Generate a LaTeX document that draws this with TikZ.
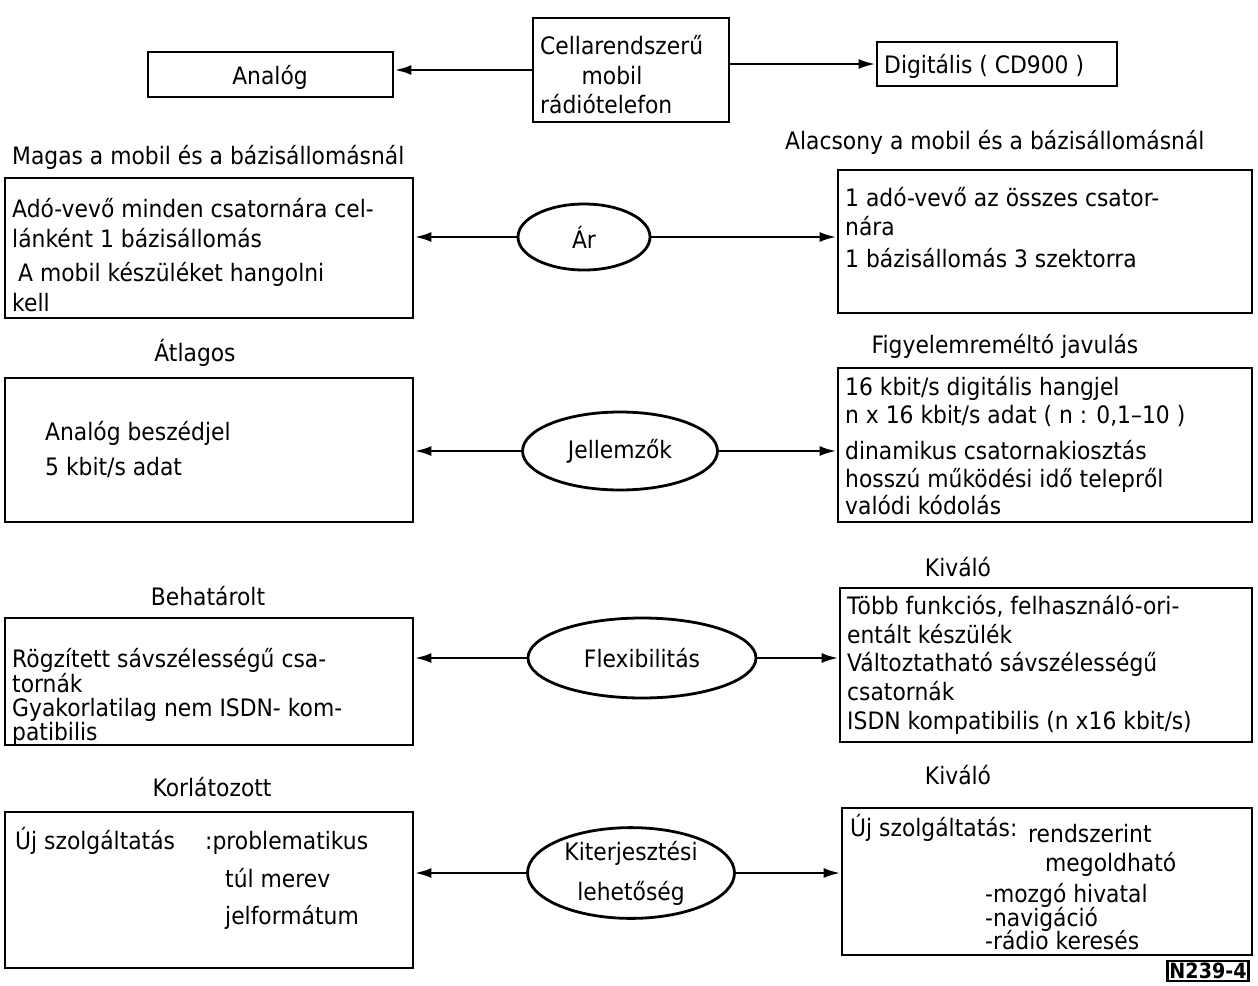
\documentclass[tikz,border=0pt]{standalone}
\usepackage{fontspec}
\setmainfont{DejaVu Sans}[FakeStretch=0.91]
\usetikzlibrary{shapes.geometric,arrows.meta,fit}
\begin{document}
\begin{tikzpicture}[x=1pt,y=-1pt,
  box/.style={draw, line width=2.8pt, inner sep=0pt},
  ell/.style={draw, ellipse, line width=2.8pt, inner sep=0pt, align=center, font=\fontsize{24}{40}\selectfont},
  txt/.style={inner sep=0pt, anchor=base west, font=\fontsize{24}{27}\selectfont},
  ctxt/.style={inner sep=0pt, anchor=base, font=\fontsize{24}{27}\selectfont},
  arr/.style={line width=2.8pt, -{Latex[length=17pt,width=10pt]}}]
\useasboundingbox (0,0) rectangle (1258,985);

% top row
\node[box, fit={(148,52) (393,97)}] (A) {};
\node[ctxt] (tA) at (270,84) {Analóg};
\node[box, fit={(533,18) (729,122)}] (C) {};
\node[txt] (tC1) at (540,54) {Cellarendszerű};
\node[ctxt] (tC2) at (612,84) {mobil};
\node[txt] (tC3) at (540,113) {rádiótelefon};
\node[box, fit={(877,42) (1117,86)}] (D) {};
\node[txt] (tD) at (884,73) {Digitális ( CD900 )};
\draw[arr] (C.west) -- (C.west -| A.east);
\draw[arr] (C.east |- D.west) -- (D.west);

% row 1: Ár
\node[txt] (cap1l) at (12,164) {Magas a mobil és a bázisállomásnál};
\node[txt] (cap1r) at (785,149) {Alacsony a mobil és a bázisállomásnál};
\node[box, fit={(5,178) (413,318)}] (L1) {};
\node[txt] (l1a) at (12,217) {Adó-vevő minden csatornára cel-};
\node[txt] (l1b) at (12,247) {lánként 1 bázisállomás};
\node[txt] (l1c) at (18,281) {A mobil készüléket hangolni};
\node[txt] (l1d) at (12,311) {kell};
\node[ell, minimum width=132pt, minimum height=66pt] (E1) at (584,237) {Ár};
\node[box, fit={(838,170) (1252,313)}] (R1) {};
\node[txt] (r1a) at (845,206) {1 adó-vevő az összes csator-};
\node[txt] (r1b) at (845,235) {nára};
\node[txt] (r1c) at (845,267) {1 bázisállomás 3 szektorra};
\draw[arr] (E1.west) -- (E1.west -| L1.east);
\draw[arr] (E1.east) -- (E1.east -| R1.west);

% row 2: Jellemzők
\node[ctxt] (cap2l) at (195,361) {Átlagos};
\node[ctxt] (cap2r) at (1005,353) {Figyelemreméltó javulás};
\node[box, fit={(5,378) (413,522)}] (L2) {};
\node[txt] (l2a) at (45,440) {Analóg beszédjel};
\node[txt] (l2b) at (45,475) {5 kbit/s adat};
\node[ell, minimum width=195pt, minimum height=78pt] (E2) at (620,451) {Jellemzők};
\node[box, fit={(838,368) (1252,522)}] (R2) {};
\node[txt] (r2a) at (845,395) {16 kbit/s digitális hangjel};
\node[txt] (r2b) at (845,423) {n x 16 kbit/s adat ( n : 0,1–10 )};
\node[txt] (r2c) at (845,459) {dinamikus csatornakiosztás};
\node[txt] (r2d) at (845,487) {hosszú működési idő telepről};
\node[txt] (r2e) at (845,514) {valódi kódolás};
\draw[arr] (E2.west) -- (E2.west -| L2.east);
\draw[arr] (E2.east) -- (E2.east -| R2.west);

% row 3: Flexibilitás
\node[ctxt] (cap3l) at (208,605) {Behatárolt};
\node[ctxt] (cap3r) at (958,576) {Kiváló};
\node[box, fit={(5,618) (413,745)}] (L3) {};
\node[txt] (l3a) at (12,667) {Rögzített sávszélességű csa-};
\node[txt] (l3b) at (12,692) {tornák};
\node[txt] (l3c) at (12,716) {Gyakorlatilag nem ISDN- kom-};
\node[txt] (l3d) at (12,740) {patibilis};
\node[ell, minimum width=228pt, minimum height=80pt] (E3) at (642,658) {Flexibilitás};
\node[box, fit={(840,588) (1252,742)}] (R3) {};
\node[txt] (r3a) at (847,614) {Több funkciós, felhasználó-ori-};
\node[txt] (r3b) at (847,643) {entált készülék};
\node[txt] (r3c) at (847,671) {Változtatható sávszélességű};
\node[txt] (r3d) at (847,700) {csatornák};
\node[txt] (r3e) at (847,729) {ISDN kompatibilis (n x16 kbit/s)};
\draw[arr] (E3.west) -- (E3.west -| L3.east);
\draw[arr] (E3.east) -- (E3.east -| R3.west);

% row 4: Kiterjesztési lehetőség
\node[ctxt] (cap4l) at (212,796) {Korlátozott};
\node[ctxt] (cap4r) at (958,784) {Kiváló};
\node[box, fit={(5,812) (413,968)}] (L4) {};
\node[txt] (l4a) at (15,849) {Új szolgáltatás};
\node[txt] (l4b) at (205,849) {:problematikus};
\node[txt] (l4c) at (225,887) {túl merev};
\node[txt] (l4d) at (225,924) {jelformátum};
\node[ell, minimum width=207pt, minimum height=82pt] (E4) at (631,873) {Kiterjesztési\\lehetőség};
\node[box, fit={(842,808) (1252,955)}] (R4) {};
\node[txt] (r4a) at (850,836) {Új szolgáltatás:};
\node[txt] (r4b) at (1028,842) {rendszerint};
\node[txt] (r4c) at (1045,871) {megoldható};
\node[txt] (r4d) at (985,902) {-mozgó hivatal};
\node[txt] (r4e) at (985,926) {-navigáció};
\node[txt] (r4f) at (985,949) {-rádio keresés};
\draw[arr] (E4.west) -- (E4.west -| L4.east);
\draw[arr] (E4.east) -- (E4.east -| R4.west);

\node[draw, line width=2.5pt, inner sep=2pt, font=\bfseries\fontsize{21}{21}\selectfont] (lab) at (1208,971) {N239-4};
\end{tikzpicture}
\end{document}
